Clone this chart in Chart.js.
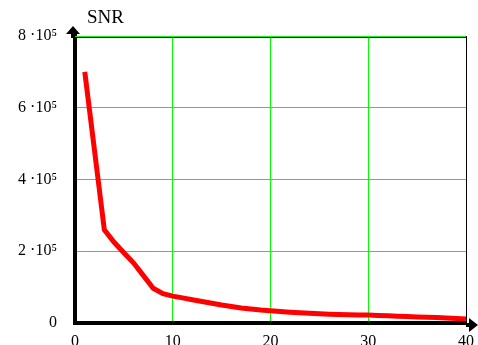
<!DOCTYPE html>
<html>
<head>
<meta charset="utf-8">
<script src="https://cdn.jsdelivr.net/npm/chart.js@4"></script>
<style>
  body { margin: 0; background: #fff; }
</style>
</head>
<body>
<canvas id="myChart" width="478" height="345"></canvas>
<script>
// 資料：SNR 對 n
const nValues = [1, 2, 3, 4, 5, 6, 7, 8, 9, 10,
    11, 12, 13, 14, 15, 16, 17, 18, 19, 20,
    21, 22, 23, 24, 25, 26, 27, 28, 29, 30,
    31, 32, 33, 34, 35, 36, 37, 38, 39, 40];
const snrValues = [700000, 480000, 260000, 225000, 196000, 167000, 132000, 97000, 82000, 75000,
    70000, 65000, 60000, 55000, 50000, 46000, 42000, 39000, 36000, 34000,
    32000, 30000, 28500, 27000, 25500, 24500, 24000, 23000, 22500, 22000,
    21000, 20000, 19000, 18000, 17000, 16000, 15000, 14000, 12500, 11000];

// 刻度標籤
const xTickValues = [0, 10, 20, 30, 40];
const xTickLabels = ['0', '10', '20', '30', '40'];
const yTickValues = [0, 200000, 400000, 600000, 800000];
const yTickLabels = ['0', '2 ·10⁵', '4 ·10⁵', '6 ·10⁵', '8 ·10⁵'];
const yAxisTitle = 'SNR';

const points = nValues.map((n, i) => ({ x: n, y: snrValues[i] }));

// 軸的箭頭、右邊框、標題
const axesDecor = {
    id: 'axesDecor',
    beforeDatasetsDraw(chart) {
        const { ctx, chartArea } = chart;
        ctx.save();
        ctx.strokeStyle = '#000';
        ctx.lineWidth = 1;
        ctx.beginPath();
        ctx.moveTo(chartArea.right + 0.5, chartArea.top);
        ctx.lineTo(chartArea.right + 0.5, chartArea.bottom);
        ctx.moveTo(chartArea.left, chartArea.top + 1.5);
        ctx.lineTo(chartArea.right, chartArea.top + 1.5);
        ctx.stroke();
        ctx.strokeStyle = '#00ff00';
        ctx.beginPath();
        ctx.moveTo(chartArea.left, chartArea.top + 0.5);
        ctx.lineTo(chartArea.right, chartArea.top + 0.5);
        ctx.stroke();

        // y 軸箭頭
        const ax = chartArea.left - 2;
        ctx.fillStyle = '#000';
        ctx.fillRect(ax - 2, chartArea.top - 4, 4, 6);
        ctx.beginPath();
        ctx.moveTo(ax, chartArea.top - 10);
        ctx.lineTo(ax - 7, chartArea.top - 2);
        ctx.lineTo(ax + 7, chartArea.top - 2);
        ctx.closePath();
        ctx.fill();

        // x 軸箭頭
        const ay = chartArea.bottom + 2;
        ctx.fillRect(chartArea.right, ay - 2, 4, 4);
        ctx.beginPath();
        ctx.moveTo(chartArea.right + 12, ay);
        ctx.lineTo(chartArea.right + 3, ay - 7);
        ctx.lineTo(chartArea.right + 3, ay + 7);
        ctx.closePath();
        ctx.fill();

        ctx.font = '19px "Liberation Serif"';
        ctx.textBaseline = 'alphabetic';
        ctx.textAlign = 'left';
        ctx.fillText(yAxisTitle, chartArea.left + 12, 23);
        ctx.restore();
    }
};

const ctx = document.getElementById('myChart').getContext('2d');
const myChart = new Chart(ctx, {
    type: 'line',
    data: {
        datasets: [{
            label: 'SNR',
            data: points,
            borderColor: '#ff0000',
            borderWidth: 5,
            tension: 0,
            fill: false,
            pointRadius: 0
        }]
    },
    options: {
        responsive: false,
        animation: false,
        layout: { padding: { top: 36, right: 12, left: 0, bottom: 0 } },
        plugins: {
            legend: { display: false },
            tooltip: { enabled: false }
        },
        scales: {
            x: {
                type: 'linear',
                min: 0,
                max: 40,
                afterFit: (scale) => {
                    scale.height = 22;
                    scale.paddingLeft = 0;
                    scale.paddingRight = 0;
                },
                afterBuildTicks: (scale) => { scale.ticks = xTickValues.map(v => ({ value: v })); },
                ticks: {
                    padding: 9,
                    color: '#000',
                    font: { family: 'Liberation Serif', size: 16 },
                    callback: (v) => xTickLabels[xTickValues.indexOf(v)]
                },
                grid: { color: '#00ff00', lineWidth: 1, drawTicks: false },
                border: { color: '#000', width: 4 }
            },
            y: {
                min: 0,
                max: 800000,
                afterFit: (scale) => {
                    scale.width = 75;
                    scale.paddingTop = 0;
                    scale.paddingBottom = 0;
                },
                afterBuildTicks: (scale) => { scale.ticks = yTickValues.map(v => ({ value: v })); },
                ticks: {
                    padding: 18,
                    color: '#000',
                    font: { family: 'Liberation Serif', size: 16 },
                    callback: (v) => yTickLabels[yTickValues.indexOf(v)]
                },
                grid: { color: '#00ff00', lineWidth: 1, drawTicks: false },
                border: { color: '#000', width: 4 }
            }
        }
    },
    plugins: [axesDecor]
});
</script>
</body>
</html>
